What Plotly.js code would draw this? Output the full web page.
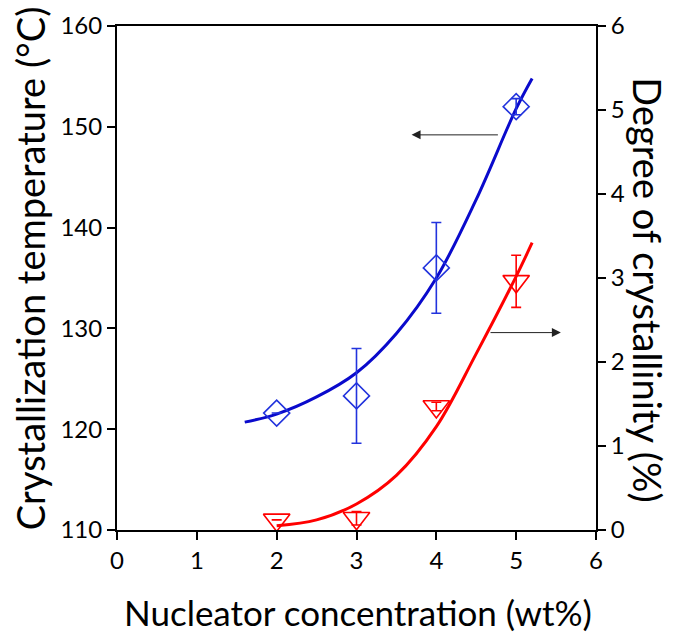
<!DOCTYPE html>
<html>
<head>
<meta charset="utf-8">
<script src="https://cdn.plot.ly/plotly-3.0.1.min.js"></script>
<style>html,body{margin:0;padding:0;background:#fff;}#chart{width:673px;height:637px;}</style>
</head>
<body>
<div id="chart"></div>
<script>
// Measured data
var concentration = [2, 3, 4, 5];
var crystTemp = [121.6, 123.3, 136.0, 152.0];
var crystTempErr = [0, 4.7, 4.5, 0.8];
var crystDegree = [0.12, 0.14, 1.47, 2.96];
var crystDegreeErr = [0, 0.08, 0.05, 0.31];

// Fit curves
var fitTempX = [1.6, 2, 2.5, 3, 3.5, 4, 4.5, 5, 5.2];
var fitTempY = [120.7, 121.5, 123.2, 125.6, 129.5, 135.0, 142.8, 151.8, 154.8];
var fitDegX = [2, 2.5, 3, 3.5, 4, 4.5, 5, 5.2];
var fitDegY = [0.05, 0.12, 0.31, 0.65, 1.23, 2.1, 3.02, 3.42];

// Arrows: [tailX, headX, y]
var arrowTemp = [4.79, 3.69, 149.2];
var arrowDeg = [4.66, 5.56, 2.35];

var xTicks = [0, 1, 2, 3, 4, 5, 6];
var yLeftTicks = [110, 120, 130, 140, 150, 160];
var yRightTicks = [0, 1, 2, 3, 4, 5, 6];

var FONT = 'Lato, "Open Sans", sans-serif';
var red = '#ff0000';
var markerBlue = '#2233dd';

var traces = [
  {x: fitTempX, y: fitTempY, mode: 'lines', line: {color: '#0a0acc', width: 3, shape: 'spline'}, hoverinfo: 'skip', yaxis: 'y'},
  {x: fitDegX, y: fitDegY, mode: 'lines', line: {color: red, width: 3, shape: 'spline'}, hoverinfo: 'skip', yaxis: 'y2'},
  {x: concentration, y: crystTemp, mode: 'markers', yaxis: 'y',
   marker: {symbol: 'diamond-open', size: 20, color: markerBlue, line: {width: 1.6, color: markerBlue}},
   error_y: {type: 'data', array: crystTempErr, visible: true, color: markerBlue, thickness: 1.6, width: 5}},
  {x: concentration, y: crystDegree, mode: 'markers', yaxis: 'y2',
   marker: {symbol: 'triangle-down-open', size: 23, color: red, line: {width: 1.6, color: red}},
   error_y: {type: 'data', array: crystDegreeErr, visible: true, color: red, thickness: 1.6, width: 5}}
];

var axisCommon = {showgrid: false, zeroline: false, showline: true, linecolor: '#000', linewidth: 2,
  ticks: 'outside', ticklen: 8, tickwidth: 2, tickcolor: '#000',
  tickfont: {family: FONT, size: 24, color: '#000'}};

var layout = {
  width: 673, height: 637,
  margin: {l: 117, r: 77, t: 26, b: 107, pad: 0},
  paper_bgcolor: '#fff', plot_bgcolor: '#fff',
  showlegend: false,
  xaxis: Object.assign({}, axisCommon, {range: [0, 6], tickvals: xTicks, mirror: true}),
  yaxis: Object.assign({}, axisCommon, {range: [110, 160], tickvals: yLeftTicks}),
  yaxis2: Object.assign({}, axisCommon, {range: [0, 6], tickvals: yRightTicks, overlaying: 'y', side: 'right'}),
  annotations: [
    {xref: 'x', yref: 'y', axref: 'x', ayref: 'y', x: arrowTemp[1], y: arrowTemp[2], ax: arrowTemp[0], ay: arrowTemp[2],
     text: '', showarrow: true, arrowhead: 2, arrowsize: 1.8, arrowwidth: 1, arrowcolor: '#222'},
    {xref: 'x', yref: 'y2', axref: 'x', ayref: 'y2', x: arrowDeg[1], y: arrowDeg[2], ax: arrowDeg[0], ay: arrowDeg[2],
     text: '', showarrow: true, arrowhead: 2, arrowsize: 1.8, arrowwidth: 1, arrowcolor: '#222'},
    {xref: 'paper', yref: 'paper', x: -0.181, y: 0.52, text: 'Crystallization temperature (°C)', textangle: -90,
     showarrow: false, xanchor: 'center', yanchor: 'middle', font: {family: FONT, size: 38, color: '#000'}},
    {xref: 'paper', yref: 'paper', x: 1.108, y: 0.476, text: 'Degree of crystallinity (%)', textangle: 90,
     showarrow: false, xanchor: 'center', yanchor: 'middle', font: {family: FONT, size: 38, color: '#000'}},
    {xref: 'paper', yref: 'paper', x: 0.503, y: -0.163, text: 'Nucleator concentration (wt%)',
     showarrow: false, xanchor: 'center', yanchor: 'middle', font: {family: FONT, size: 35, color: '#000'}}
  ]
};

Plotly.newPlot('chart', traces, layout, {displayModeBar: false, staticPlot: true});
</script>
</body>
</html>
